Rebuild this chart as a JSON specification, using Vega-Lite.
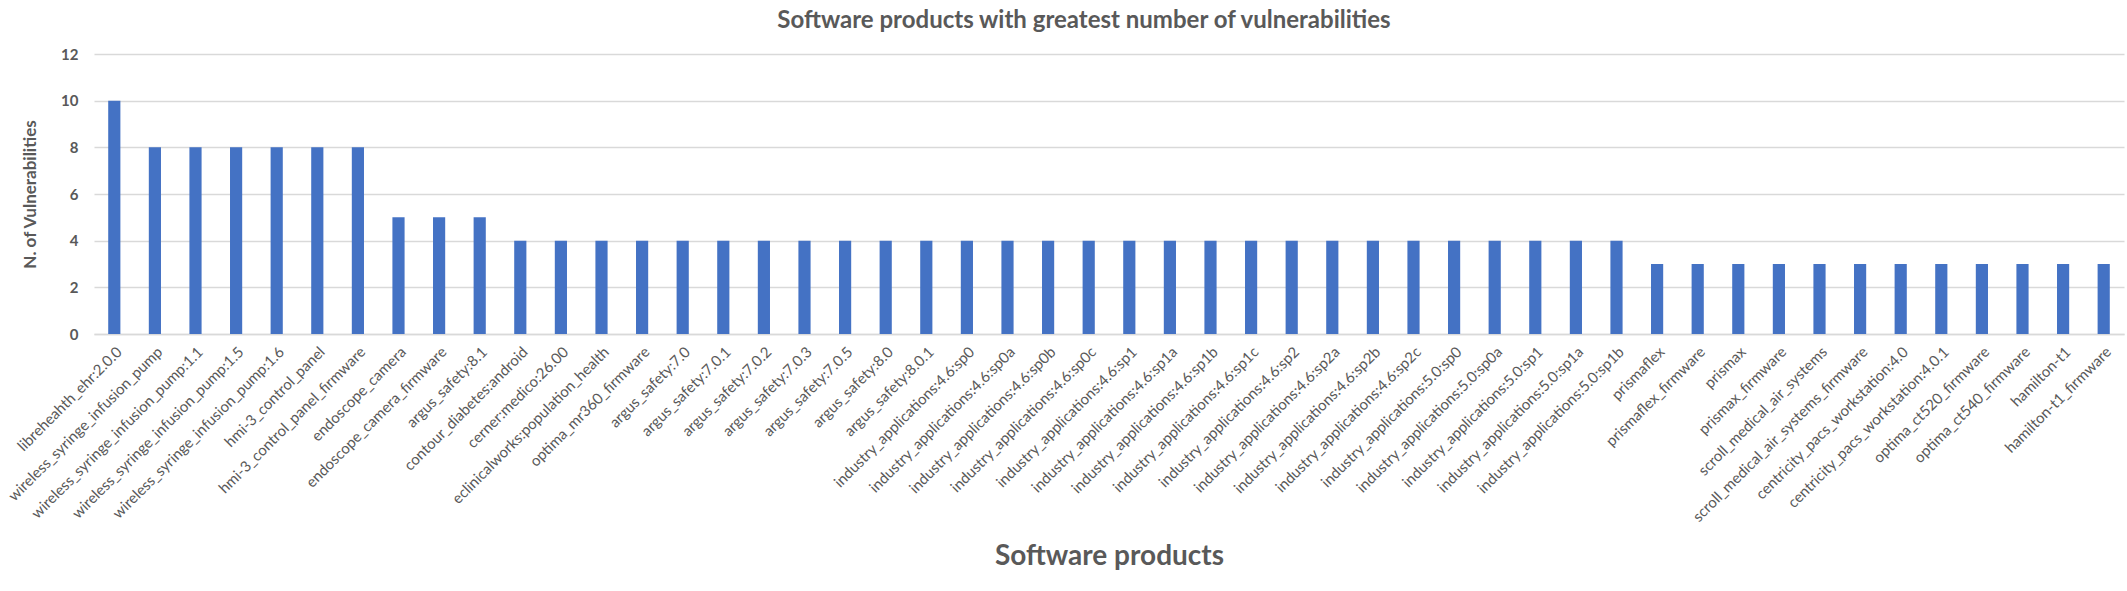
{
  "$schema": "https://vega.github.io/schema/vega-lite/v6.json",
  "autosize": "none",
  "width": 2030,
  "height": 280,
  "padding": {"left": 94, "top": 54, "right": 3, "bottom": 257},
  "background": "white",
  "title": {
    "text": "Software products with greatest number of vulnerabilities",
    "font": "Lato",
    "fontSize": 24,
    "fontWeight": "bold",
    "color": "#595959",
    "anchor": "middle",
    "dx": -25,
    "baseline": "middle",
    "offset": 2
  },
  "config": {
    "view": {"stroke": null},
    "font": "Lato"
  },
  "data": {
    "values": [
      {"product": "libreheahth_ehr:2.0.0", "n": 10},
      {"product": "wireless_syringe_infusion_pump", "n": 8},
      {"product": "wireless_syringe_infusion_pump:1.1", "n": 8},
      {"product": "wireless_syringe_infusion_pump:1.5", "n": 8},
      {"product": "wireless_syringe_infusion_pump:1.6", "n": 8},
      {"product": "hmi-3_control_panel", "n": 8},
      {"product": "hmi-3_control_panel_firmware", "n": 8},
      {"product": "endoscope_camera", "n": 5},
      {"product": "endoscope_camera_firmware", "n": 5},
      {"product": "argus_safety:8.1", "n": 5},
      {"product": "contour_diabetes:android", "n": 4},
      {"product": "cerner:medico:26.00", "n": 4},
      {"product": "eclinicalworks:population_health", "n": 4},
      {"product": "optima_mr360_firmware", "n": 4},
      {"product": "argus_safety:7.0", "n": 4},
      {"product": "argus_safety:7.0.1", "n": 4},
      {"product": "argus_safety:7.0.2", "n": 4},
      {"product": "argus_safety:7.0.3", "n": 4},
      {"product": "argus_safety:7.0.5", "n": 4},
      {"product": "argus_safety:8.0", "n": 4},
      {"product": "argus_safety:8.0.1", "n": 4},
      {"product": "industry_applications:4.6:sp0", "n": 4},
      {"product": "industry_applications:4.6:sp0a", "n": 4},
      {"product": "industry_applications:4.6:sp0b", "n": 4},
      {"product": "industry_applications:4.6:sp0c", "n": 4},
      {"product": "industry_applications:4.6:sp1", "n": 4},
      {"product": "industry_applications:4.6:sp1a", "n": 4},
      {"product": "industry_applications:4.6:sp1b", "n": 4},
      {"product": "industry_applications:4.6:sp1c", "n": 4},
      {"product": "industry_applications:4.6:sp2", "n": 4},
      {"product": "industry_applications:4.6:sp2a", "n": 4},
      {"product": "industry_applications:4.6:sp2b", "n": 4},
      {"product": "industry_applications:4.6:sp2c", "n": 4},
      {"product": "industry_applications:5.0:sp0", "n": 4},
      {"product": "industry_applications:5.0:sp0a", "n": 4},
      {"product": "industry_applications:5.0:sp1", "n": 4},
      {"product": "industry_applications:5.0:sp1a", "n": 4},
      {"product": "industry_applications:5.0:sp1b", "n": 4},
      {"product": "prismaflex", "n": 3},
      {"product": "prismaflex_firmware", "n": 3},
      {"product": "prismax", "n": 3},
      {"product": "prismax_firmware", "n": 3},
      {"product": "scroll_medical_air_systems", "n": 3},
      {"product": "scroll_medical_air_systems_firmware", "n": 3},
      {"product": "centricity_pacs_workstation:4.0", "n": 3},
      {"product": "centricity_pacs_workstation:4.0.1", "n": 3},
      {"product": "optima_ct520_firmware", "n": 3},
      {"product": "optima_ct540_firmware", "n": 3},
      {"product": "hamilton-t1", "n": 3},
      {"product": "hamilton-t1_firmware", "n": 3}
    ]
  },
  "mark": {"type": "bar", "color": "#4472C4"},
  "encoding": {
    "x": {
      "field": "product",
      "type": "nominal",
      "sort": null,
      "scale": {"paddingInner": 0.7, "paddingOuter": 0.35},
      "axis": {
        "title": "Software products",
        "titleFont": "Lato",
        "titleFontSize": 28,
        "titleFontWeight": "bold",
        "titleColor": "#595959",
        "titleY": 222,
        "titleBaseline": "middle",
        "labelAngle": -45,
        "labelFontSize": 15,
        "labelColor": "#595959",
        "labelPadding": 10,
        "labelOverlap": false,
        "labelLimit": 0,
        "ticks": false,
        "domainColor": "#d9d9d9",
        "domainWidth": 1.5
      }
    },
    "y": {
      "field": "n",
      "type": "quantitative",
      "scale": {"domain": [0, 12]},
      "axis": {
        "title": "N. of Vulnerabilities",
        "titleFont": "Lato",
        "titleFontSize": 17,
        "titleFontWeight": "bold",
        "titleColor": "#595959",
        "titleX": -64,
        "titleY": 140,
        "titleAlign": "center",
        "titleBaseline": "middle",
        "values": [0, 2, 4, 6, 8, 10, 12],
        "labelFontSize": 15,
        "labelFontWeight": "bold",
        "labelColor": "#595959",
        "labelPadding": 16,
        "ticks": false,
        "domain": false,
        "gridColor": "#d9d9d9",
        "gridWidth": 1.5
      }
    }
  }
}
